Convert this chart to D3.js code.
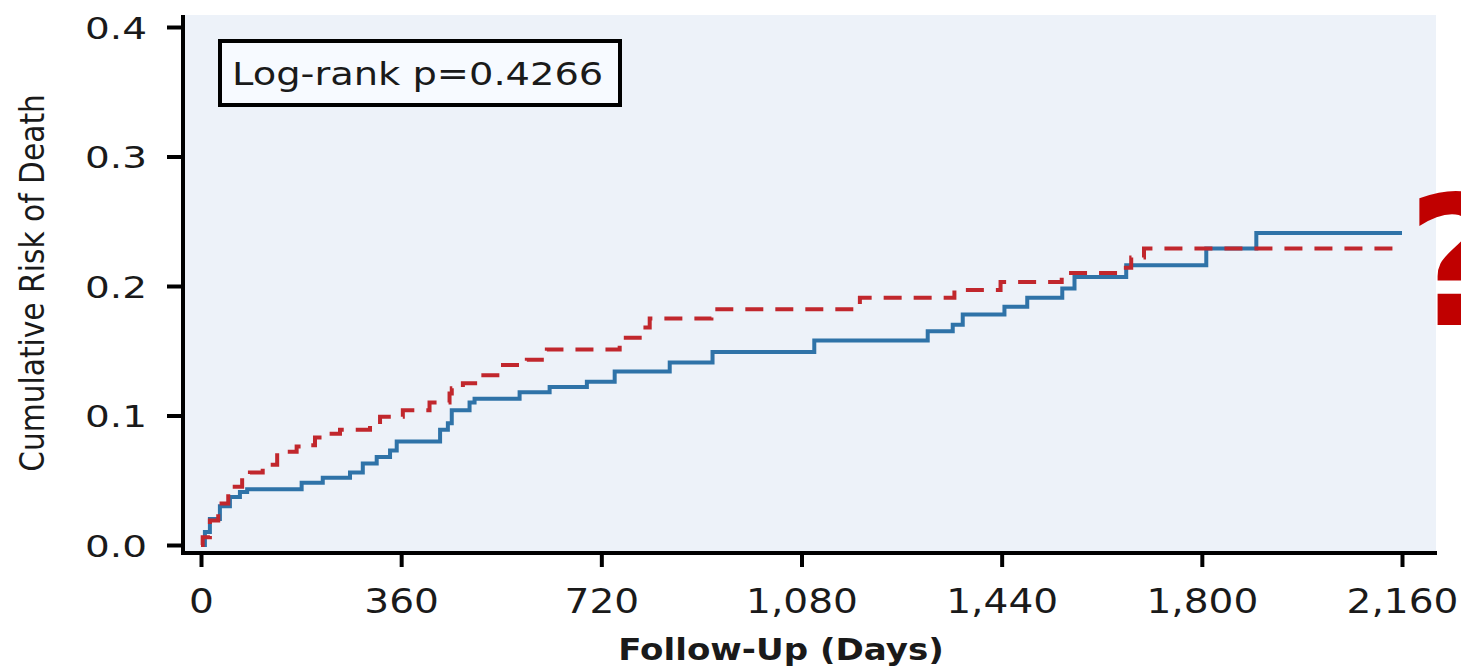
<!DOCTYPE html>
<html>
<head>
<meta charset="utf-8">
<script src="https://cdn.jsdelivr.net/npm/d3@7"></script>
<style>
  html, body { margin: 0; padding: 0; background: #fff; }
  svg { display: block; }
  text { font-family: "DejaVu Sans", sans-serif; fill: #1a1a1a; }
</style>
</head>
<body>
<svg id="chart" width="1461" height="668"></svg>
<script>
// Kaplan-Meier style cumulative risk
const blueDays = [0, 7, 16, 34, 52, 70, 83, 181, 219, 268, 291, 316, 340, 352, 430, 444, 451, 483, 492, 573, 627, 694, 744, 843, 920, 1103, 1307, 1352, 1370, 1445, 1486, 1549, 1571, 1664, 1808, 1898, 2160];
const blueRisk = [0, 0.01, 0.02, 0.03, 0.037, 0.041, 0.043, 0.048, 0.052, 0.056, 0.063, 0.068, 0.073, 0.080, 0.089, 0.094, 0.104, 0.110, 0.113, 0.118, 0.122, 0.126, 0.134, 0.141, 0.149, 0.158, 0.165, 0.170, 0.178, 0.184, 0.191, 0.198, 0.207, 0.216, 0.229, 0.241, 0.241];

const redDays = [0, 3, 16, 31, 49, 74, 88, 111, 137, 172, 187, 205, 218, 250, 304, 322, 363, 411, 447, 451, 471, 501, 537, 586, 622, 753, 789, 807, 918, 1185, 1355, 1438, 1548, 1650, 1673, 1696, 2160];
const redRisk = [0, 0.006, 0.019, 0.032, 0.045, 0.053, 0.056, 0.062, 0.072, 0.076, 0.077, 0.083, 0.086, 0.089, 0.093, 0.099, 0.104, 0.110, 0.117, 0.121, 0.125, 0.131, 0.139, 0.143, 0.151, 0.160, 0.168, 0.175, 0.182, 0.191, 0.197, 0.203, 0.210, 0.214, 0.222, 0.229, 0.229];

const xTicks = [0, 360, 720, 1080, 1440, 1800, 2160];
const yTicks = [0, 0.1, 0.2, 0.3, 0.4];
const pValueLabel = 'Log-rank p=0.4266';

const svg = d3.select('#chart');

const x = d3.scaleLinear().domain([0, 2160]).range([201, 1402]);
const y = d3.scaleLinear().domain([0, 0.4]).range([545, 27]);

const axisX = 183;   // y axis line position
const axisY = 553;   // x axis line position

// plot background
svg.append('rect')
    .attr('x', axisX).attr('y', 15)
    .attr('width', 1436 - axisX).attr('height', axisY - 15)
    .attr('fill', '#edf2f9');

// curves
const line = d3.line()
    .x(d => x(d[0]))
    .y(d => y(d[1]))
    .curve(d3.curveStepAfter);

svg.append('path')
    .datum(blueDays.map((d, i) => [d, blueRisk[i]]))
    .attr('d', line)
    .attr('fill', 'none')
    .attr('stroke', '#2f73a8')
    .attr('stroke-width', 4);

svg.append('path')
    .datum(redDays.map((d, i) => [d, redRisk[i]]))
    .attr('d', line)
    .attr('fill', 'none')
    .attr('stroke', '#c1272d')
    .attr('stroke-width', 4)
    .attr('stroke-dasharray', '18,12');

// axes
const yAxis = svg.append('g')
    .attr('transform', `translate(${axisX},0)`)
    .call(d3.axisLeft(y).tickValues(yTicks).tickSize(16).tickFormat(d3.format('.1f')));
yAxis.select('.domain').remove();
yAxis.selectAll('line').attr('stroke', '#000').attr('stroke-width', 4);
yAxis.selectAll('text')
    .attr('x', null).attr('dy', null)
    .attr('y', 11)
    .attr('transform', 'translate(-36,0) scale(1.3,1)')
    .attr('text-anchor', 'end')
    .style('font-size', '30px');

const xAxis = svg.append('g')
    .attr('transform', `translate(0,${axisY})`)
    .call(d3.axisBottom(x).tickValues(xTicks).tickSize(14).tickFormat(d3.format(',')));
xAxis.select('.domain').remove();
xAxis.selectAll('line').attr('stroke', '#000').attr('stroke-width', 4);
xAxis.selectAll('text')
    .attr('y', null).attr('dy', null)
    .attr('transform', 'translate(0,60) scale(1.15,1)')
    .style('font-size', '34px');

svg.append('line')
    .attr('x1', axisX).attr('x2', axisX)
    .attr('y1', 15).attr('y2', axisY + 2)
    .attr('stroke', '#000').attr('stroke-width', 4);
svg.append('line')
    .attr('x1', axisX - 2).attr('x2', 1437)
    .attr('y1', axisY).attr('y2', axisY)
    .attr('stroke', '#000').attr('stroke-width', 4);

// axis titles
svg.append('text')
    .attr('transform', 'translate(781,660) scale(1.1,1)')
    .attr('text-anchor', 'middle')
    .style('font-size', '31px')
    .style('font-weight', 'bold')
    .text('Follow-Up (Days)');

svg.append('text')
    .attr('transform', 'translate(44,283) rotate(-90)')
    .attr('text-anchor', 'middle')
    .style('font-family', '"Liberation Sans Narrow", "DejaVu Sans Condensed", sans-serif')
    .style('font-size', '33px')
    .text('Cumulative Risk of Death');

// p-value box
svg.append('rect')
    .attr('x', 220).attr('y', 41)
    .attr('width', 400).attr('height', 64)
    .attr('fill', '#f7faff')
    .attr('stroke', '#000')
    .attr('stroke-width', 4);
svg.append('text')
    .attr('transform', 'translate(232,85) scale(1.2,1)')
    .style('font-size', '32px')
    .text(pValueLabel);

// red question mark at right edge
svg.append('text')
    .attr('x', 1407).attr('y', 325)
    .style('font-size', '180px')
    .style('font-weight', 'bold')
    .style('fill', '#c00000')
    .text('?');
</script>
</body>
</html>
